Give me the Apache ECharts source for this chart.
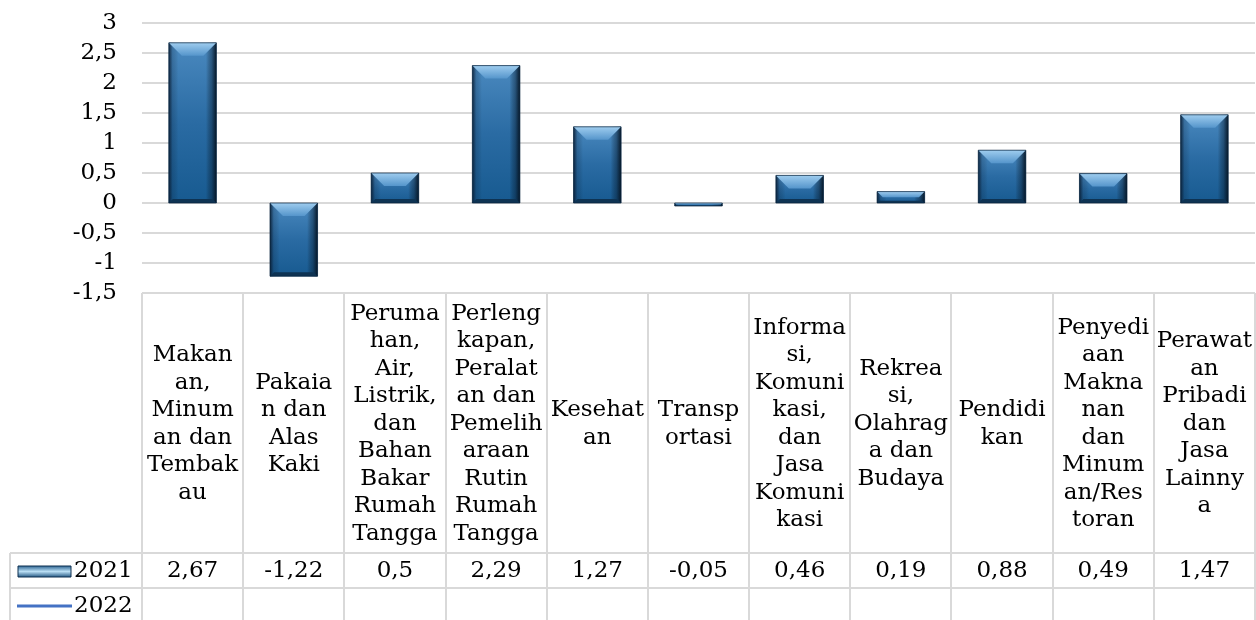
<!DOCTYPE html>
<html>
<head>
<meta charset="utf-8">
<script src="https://cdn.jsdelivr.net/npm/echarts@6/dist/echarts.min.js"></script>
<style>
  html, body { margin: 0; padding: 0; background: #fff; }
  #chart { width: 1256px; height: 620px; }
</style>
</head>
<body>
<div id="chart"></div>
<script>
// kategori (dipotong per baris seperti tabel data Excel)
const categories = [
  'Makan\nan,\nMinum\nan dan\nTembak\nau',
  'Pakaia\nn dan\nAlas\nKaki',
  'Peruma\nhan,\nAir,\nListrik,\ndan\nBahan\nBakar\nRumah\nTangga',
  'Perleng\nkapan,\nPeralat\nan dan\nPemelih\naraan\nRutin\nRumah\nTangga',
  'Kesehat\nan',
  'Transp\nortasi',
  'Informa\nsi,\nKomuni\nkasi,\ndan\nJasa\nKomuni\nkasi',
  'Rekrea\nsi,\nOlahrag\na dan\nBudaya',
  'Pendidi\nkan',
  'Penyedi\naan\nMakna\nnan\ndan\nMinum\nan/Res\ntoran',
  'Perawat\nan\nPribadi\ndan\nJasa\nLainny\na'
]
const values2021 = [2.67, -1.22, 0.5, 2.29, 1.27, -0.05, 0.46, 0.19, 0.88, 0.49, 1.47]
const values2022 = []
const seriesNames = ['2021', '2022']

const FONT = 'DejaVu Serif'
const FS = 23
const fmt = (v) => String(v).replace('.', ',')

// table layout
const LEFT = 142, RIGHT = 1255, TOP = 23, PLOT_BOTTOM = 293
const HEAD_BOTTOM = 553, ROW1_BOTTOM = 588, BOTTOM = 620, KEY_LEFT = 10
const LINE_COLOR = '#d9d9d9'

function renderBevelBar(params, api) {
  const idx = api.value(0), v = api.value(1)
  const p0 = api.coord([idx, 0])
  const p1 = api.coord([idx, v])
  const w = api.size([1, 0])[0] * 0.47
  const x0 = p0[0] - w / 2, x1 = p0[0] + w / 2
  const y0 = Math.min(p0[1], p1[1])
  const y1 = Math.max(p0[1], p1[1], y0 + 2)
  const h = y1 - y0
  const bt = Math.min(13, h * 0.5)
  const bb = Math.min(4, h * 0.2)
  const lin = (x, y, x2, y2, stops) => new echarts.graphic.LinearGradient(x, y, x2, y2, stops)
  return {
    type: 'group',
    children: [
      {
        type: 'rect',
        shape: { x: x0, y: y0, width: w, height: h },
        style: { fill: lin(0, 0, 0, 1, [
          { offset: 0, color: '#4a89bf' },
          { offset: 0.5, color: '#2a6ba3' },
          { offset: 1, color: '#175a90' }
        ]) }
      },
      {
        type: 'rect',
        shape: { x: x0, y: y0, width: w, height: h },
        style: { fill: lin(0, 0, 1, 0, [
          { offset: 0, color: 'rgba(8,25,45,0.85)' },
          { offset: 0.08, color: 'rgba(8,25,45,0.2)' },
          { offset: 0.2, color: 'rgba(0,0,0,0)' },
          { offset: 0.78, color: 'rgba(0,0,0,0)' },
          { offset: 0.9, color: 'rgba(5,20,35,0.4)' },
          { offset: 1, color: 'rgba(5,20,35,0.95)' }
        ]) }
      },
      {
        type: 'polygon',
        shape: { points: [[x0, y0], [x1, y0], [x1 - bt, y0 + bt], [x0 + bt, y0 + bt]] },
        style: { fill: lin(0, 0, 0, 1, [
          { offset: 0, color: '#9fcdef' },
          { offset: 1, color: '#5595cb' }
        ]) }
      },
      {
        type: 'polygon',
        shape: { points: [[x0, y1], [x1, y1], [x1 - bb, y1 - bb], [x0 + bb, y1 - bb]] },
        style: { fill: '#0e3353' }
      },
      {
        type: 'rect',
        shape: { x: x0, y: y0, width: w, height: h },
        style: { fill: 'none', stroke: 'rgba(10,35,60,0.7)', lineWidth: 1 }
      }
    ]
  }
}

const chart = echarts.init(document.getElementById('chart'))

// garis tabel data
const tableLines = []
const colW = (RIGHT - LEFT) / categories.length
const line = (x1, y1, x2, y2) => ({
  type: 'line', z: 10, silent: true,
  shape: { x1, y1, x2, y2 },
  style: { stroke: LINE_COLOR, lineWidth: 2 }
})
for (let i = 0; i <= categories.length; i++) {
  const x = Math.round(LEFT + i * colW)
  tableLines.push(line(x, PLOT_BOTTOM, x, BOTTOM))
}
tableLines.push(line(KEY_LEFT, HEAD_BOTTOM, RIGHT, HEAD_BOTTOM))
tableLines.push(line(KEY_LEFT, ROW1_BOTTOM, RIGHT, ROW1_BOTTOM))
tableLines.push(line(KEY_LEFT, HEAD_BOTTOM, KEY_LEFT, BOTTOM))

// kunci legenda di tabel
const legendKeys = [
  {
    type: 'rect', z: 11,
    shape: { x: 18, y: 566, width: 53, height: 11 },
    style: {
      fill: new echarts.graphic.LinearGradient(0, 0, 0, 1, [
        { offset: 0, color: '#245d8c' },
        { offset: 0.5, color: '#b9def4' },
        { offset: 1, color: '#1a4f7c' }
      ]),
      stroke: '#0f3150', lineWidth: 1
    }
  },
  {
    type: 'text', z: 11,
    style: { text: seriesNames[0], x: 74, y: 571, font: FS + 'px "' + FONT + '"', fill: '#000', verticalAlign: 'middle' }
  },
  {
    type: 'line', z: 11,
    shape: { x1: 17, y1: 606, x2: 72, y2: 606 },
    style: { stroke: '#4472c4', lineWidth: 3 }
  },
  {
    type: 'text', z: 11,
    style: { text: seriesNames[1], x: 74, y: 606, font: FS + 'px "' + FONT + '"', fill: '#000', verticalAlign: 'middle' }
  }
]

const option = {
  animation: false,
  backgroundColor: '#fff',
  textStyle: { fontFamily: FONT },
  grid: { left: LEFT, top: TOP, width: RIGHT - LEFT, height: PLOT_BOTTOM - TOP },
  xAxis: [
    {
      type: 'category',
      data: categories,
      position: 'bottom',
      axisLine: { show: false, onZero: false },
      axisTick: { show: false },
      axisLabel: {
        interval: 0,
        margin: 131,
        verticalAlign: 'middle',
        align: 'center',
        lineHeight: 27.5,
        fontFamily: FONT,
        fontSize: FS,
        color: '#000'
      }
    },
    {
      type: 'category',
      data: values2021.map(fmt),
      position: 'bottom',
      axisLine: { show: false, onZero: false },
      axisTick: { show: false },
      axisLabel: {
        interval: 0,
        margin: ROW1_BOTTOM - PLOT_BOTTOM - 17,
        verticalAlign: 'middle',
        align: 'center',
        fontFamily: FONT,
        fontSize: FS,
        color: '#000'
      }
    }
  ],
  yAxis: {
    type: 'value',
    min: -1.5,
    max: 3,
    interval: 0.5,
    axisLine: { show: false },
    axisTick: { show: false },
    axisLabel: {
      margin: 25,
      fontFamily: FONT,
      fontSize: FS,
      color: '#000',
      formatter: fmt
    },
    splitLine: { lineStyle: { color: LINE_COLOR, width: 2 } }
  },
  series: [
    {
      name: seriesNames[0],
      type: 'custom',
      renderItem: renderBevelBar,
      data: values2021.map((v, i) => [i, v]),
      encode: { x: 0, y: 1 }
    },
    {
      name: seriesNames[1],
      type: 'line',
      data: values2022,
      lineStyle: { color: '#4472c4' }
    }
  ],
  graphic: tableLines.concat(legendKeys)
}

chart.setOption(option)
</script>
</body>
</html>
